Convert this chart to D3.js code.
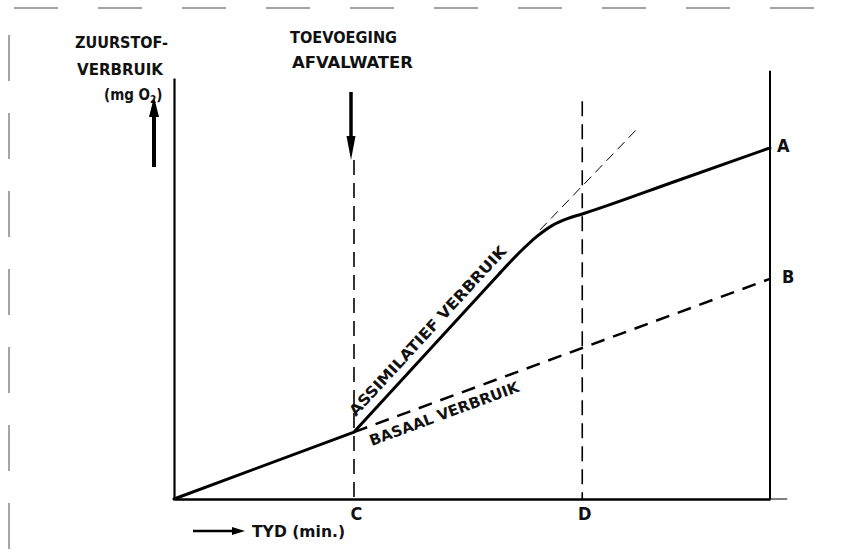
<!DOCTYPE html>
<html>
<head>
<meta charset="utf-8">
<script src="https://cdn.jsdelivr.net/npm/d3@7"></script>
<style>
  body { margin:0; background:#fff; }
  svg text { font-family: "DejaVu Sans Condensed", "Liberation Sans", sans-serif; font-weight:bold; fill:#111; }
</style>
</head>
<body>
<svg width="852" height="555"></svg>
<script>
// time (relative units) and oxygen use (relative units)
const times      = [0, 30.2, 54.7, 58.0, 61.0, 63.5, 66.0, 68.5, 84.4, 100];
const totalUse   = [0, 15.9, 53.7, 58.6, 62.5, 65.0, 66.6, 67.7, 75.6, 83.4];
const basalTimes = [30.2, 100];
const basalUse   = [15.9, 52.3];
const tangentTimes = [61.4, 77.7];
const tangentUse   = [63.9, 87.9];
const markTimes  = [30.2, 68.5];
const markLabels = ['C', 'D'];
const endLabels  = ['A', 'B'];

function Start(){
    const svg = d3.select('svg');
    const width = +svg.attr('width');
    const height = +svg.attr('height');

    const margin = { top:78, right:82, bottom:56, left:174 };
    const innerWidth = width - margin.left - margin.right;
    const innerHeight = height - margin.top - margin.bottom;

    const xscale = d3.scaleLinear().domain([0,100]).range([0,innerWidth]);
    const yscale = d3.scaleLinear().domain([0,100]).range([innerHeight,0]);

    // scanned page border (dashed)
    svg.append('line')
        .attr('x1',14).attr('x2',852).attr('y1',8).attr('y2',8)
        .attr('stroke','#888').attr('stroke-width',1.5)
        .attr('stroke-dasharray','44 40');
    svg.append('line')
        .attr('x1',9).attr('x2',9).attr('y1',35).attr('y2',555)
        .attr('stroke','#888').attr('stroke-width',1.5)
        .attr('stroke-dasharray','46 32');

    const g = svg.append('g')
        .attr('transform',`translate(${margin.left},${margin.top})`);

    // axes
    const yAxisG = g.append('g').call(d3.axisLeft(yscale).tickValues([]).tickSizeOuter(0));
    yAxisG.select('.domain').attr('stroke','#000').attr('stroke-width',2.2);

    const xAxisG = g.append('g')
        .attr('transform',`translate(0,${innerHeight})`)
        .call(d3.axisBottom(xscale).tickValues(markTimes)
            .tickFormat((d,i) => markLabels[i]).tickSize(0).tickSizeOuter(0).tickPadding(8));
    xAxisG.select('.domain').attr('stroke','#000').attr('stroke-width',2.6);
    xAxisG.selectAll('.tick text')
        .attr('font-size',18).attr('font-family',null).attr('fill','#111')
        .attr('dx',2);

    // thin axis extension past the end line
    g.append('line')
        .attr('x1',xscale(100)).attr('x2',xscale(102.9))
        .attr('y1',innerHeight).attr('y2',innerHeight)
        .attr('stroke','#000').attr('stroke-width',1);

    // end line (right)
    g.append('line')
        .attr('x1',xscale(100)).attr('x2',xscale(100))
        .attr('y1',yscale(101.7)).attr('y2',yscale(0))
        .attr('stroke','#000').attr('stroke-width',2);

    // vertical dashed markers at C and D
    g.selectAll('.mark').data(markTimes)
        .enter().append('line')
            .attr('class','mark')
            .attr('x1',d=>xscale(d)).attr('x2',d=>xscale(d))
            .attr('y1',(d,i)=> i===0 ? yscale(80.5) : yscale(94.5))
            .attr('y2',yscale(0))
            .attr('stroke','#000').attr('stroke-width',1.6)
            .attr('stroke-dasharray','15 8');

    // basal use (dashed)
    const basal = basalTimes.map((t,i)=>({t, v:basalUse[i]}));
    g.append('path').datum(basal)
        .attr('d', d3.line().x(d=>xscale(d.t)).y(d=>yscale(d.v)))
        .attr('fill','none').attr('stroke','#000').attr('stroke-width',2.5)
        .attr('stroke-dasharray','14 9');

    // tangent extension (thin dashed)
    const tangent = tangentTimes.map((t,i)=>({t, v:tangentUse[i]}));
    g.append('path').datum(tangent)
        .attr('d', d3.line().x(d=>xscale(d.t)).y(d=>yscale(d.v)))
        .attr('fill','none').attr('stroke','#000').attr('stroke-width',1)
        .attr('stroke-dasharray','10 6');

    // total use curve: straight up to the bend, smooth through the bend
    const total = times.map((t,i)=>({t, v:totalUse[i]}));
    const straight = total.slice(0,3);
    const bend = total.slice(2);
    g.append('path').datum(straight)
        .attr('d', d3.line().x(d=>xscale(d.t)).y(d=>yscale(d.v)))
        .attr('fill','none').attr('stroke','#000').attr('stroke-width',3)
        .attr('stroke-linejoin','round').attr('stroke-linecap','round');
    g.append('path').datum(bend)
        .attr('d', d3.line().x(d=>xscale(d.t)).y(d=>yscale(d.v)).curve(d3.curveMonotoneX))
        .attr('fill','none').attr('stroke','#000').attr('stroke-width',3)
        .attr('stroke-linejoin','round').attr('stroke-linecap','round');

    // A / B labels at the end line
    const endVals = [totalUse[totalUse.length-1], basalUse[basalUse.length-1]];
    g.selectAll('.endlabel').data(endVals)
        .enter().append('text')
            .attr('class','endlabel')
            .attr('x',(d,i)=> xscale(100) + (i===0 ? 7 : 12))
            .attr('y',d=> yscale(d) + 4)
            .attr('font-size',18).attr('font-weight','normal')
            .text((d,i)=>endLabels[i]);

    // curve labels
    const a = Math.atan2(yscale(53.7)-yscale(15.9), xscale(54.7)-xscale(30.2))*180/Math.PI;
    g.append('text')
        .attr('transform',`translate(${xscale(30.5)},${yscale(19.5)}) rotate(${a})`)
        .attr('font-size',15).attr('textLength',224).attr('lengthAdjust','spacingAndGlyphs')
        .text('ASSIMILATIEF VERBRUIK');
    const b = Math.atan2(yscale(basalUse[1])-yscale(basalUse[0]), xscale(basalTimes[1])-xscale(basalTimes[0]))*180/Math.PI;
    g.append('text')
        .attr('transform',`translate(${xscale(33.2)},${yscale(12.6)}) rotate(${b})`)
        .attr('font-size',15).attr('textLength',158).attr('lengthAdjust','spacingAndGlyphs')
        .text('BASAAL VERBRUIK');

    // headings and arrows (page coordinates)
    const txt = (s,x,y,len,size) => svg.append('text')
        .attr('x',x).attr('y',y).attr('font-size',size)
        .attr('textLength',len).attr('lengthAdjust','spacingAndGlyphs').text(s);
    txt('ZUURSTOF-',75,48,93,15);
    txt('VERBRUIK',77,75,86,15);
    txt('TOEVOEGING',290,43,107,15);
    txt('AFVALWATER',292,68,121,15);
    txt('TYD (min.)',252,537,93,15);

    const mg = svg.append('text').attr('x',104).attr('y',100).attr('font-size',15);
    mg.append('tspan').text('(mg O');
    mg.append('tspan').attr('font-size',10).attr('dy',3).text('2');
    mg.append('tspan').attr('dy',-3).text(')');

    const arrow = (x1,y1,x2,y2,w,hl,hw) => {
        const ang = Math.atan2(y2-y1,x2-x1);
        const bx = x2 - hl*Math.cos(ang), by = y2 - hl*Math.sin(ang);
        svg.append('line').attr('x1',x1).attr('y1',y1).attr('x2',bx).attr('y2',by)
            .attr('stroke','#000').attr('stroke-width',w);
        const px = -Math.sin(ang)*hw/2, py = Math.cos(ang)*hw/2;
        svg.append('path')
            .attr('d',`M${x2},${y2}L${bx+px},${by+py}L${bx-px},${by-py}Z`)
            .attr('fill','#000');
    };
    arrow(154,167,154,97,4,20,10);
    arrow(351,92,351,160,3.5,24,9);
    arrow(193,531,245,531,2.5,13,8);
}
Start();
</script>
</body>
</html>
